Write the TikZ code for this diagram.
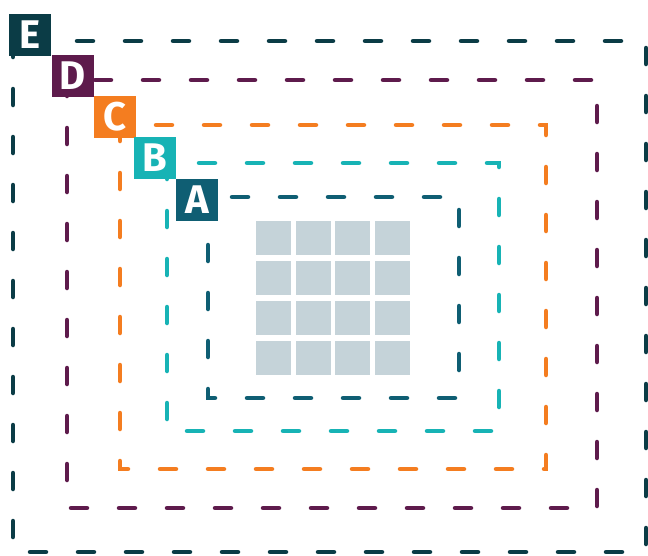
\documentclass[tikz,border=0pt]{standalone}
\usepackage{fontspec}
\setmainfont{Fira Sans}
\definecolor{cE}{HTML}{0B3C46}
\definecolor{cD}{HTML}{5E1B4C}
\definecolor{cC}{HTML}{F47D20}
\definecolor{cB}{HTML}{17B3B5}
\definecolor{cA}{HTML}{0F5E73}
\definecolor{cell}{HTML}{C5D3D9}
\begin{document}
\begin{tikzpicture}[x=1pt,y=-1pt,
  ring/.style={line width=4.5pt, line cap=round, dash pattern=on 16pt off 32pt},
  tag/.style={fill=#1, text=white, minimum size=42pt, inner sep=0pt,
    font=\bfseries\fontsize{40}{40}\selectfont},
  cellbox/.style={fill=cell, draw=none}]
\useasboundingbox (0,0) rectangle (648,555);
% dashed rings
\draw[ring, cE] (13,41) rectangle (646,552);
\draw[ring, cD] (67,80) rectangle (597,508);
\draw[ring, cC] (120,125) rectangle (546,469);
\draw[ring, cB] (167,163) rectangle (499,431);
\draw[ring, cA] (208,197) rectangle (459,398);
% grid
\foreach \i in {0,1,2,3}{
  \foreach \j in {0,1,2,3}{
    \fill[cell] ({256+39.7*\i},{221+40*\j}) rectangle ++(35,34);
  }
}
% labels
\node[tag=cE] (E) at (30,34.5) {E};
\node[tag=cD] (D) at (73,76) {D};
\node[tag=cC] (C) at (115,117) {C};
\node[tag=cB] (B) at (155,158) {B};
\node[tag=cA] (A) at (197,199.5) {A};
\end{tikzpicture}
\end{document}
